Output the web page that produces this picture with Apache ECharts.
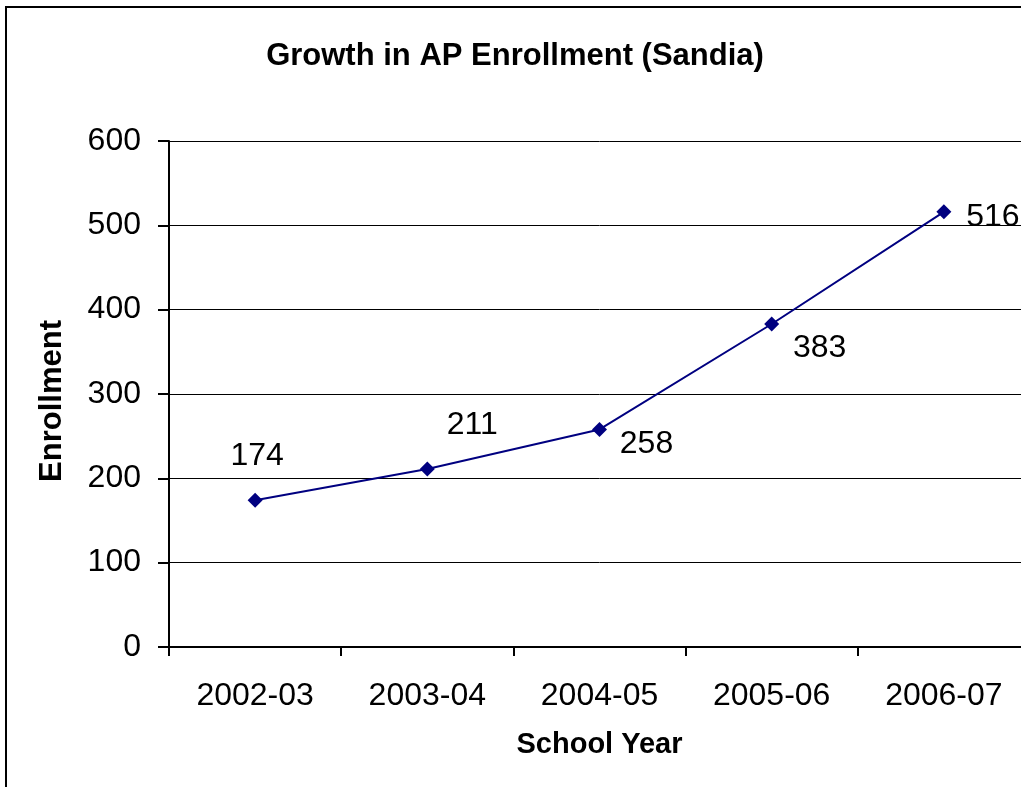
<!DOCTYPE html>
<html>
<head>
<meta charset="utf-8">
<script src="https://cdn.jsdelivr.net/npm/echarts@6/dist/echarts.min.js"></script>
<style>
html,body{margin:0;padding:0;background:#fff;overflow:hidden;width:1021px;height:787px;}
#chart{width:1030px;height:787px;}
</style>
</head>
<body>
<div id="chart"></div>
<script>
const categories = ['2002-03', '2003-04', '2004-05', '2005-06', '2006-07'];
const enrollment = [174, 211, 258, 383, 516];
const yTicks = [0, 100, 200, 300, 400, 500, 600];

const titleText = 'Growth in AP Enrollment (Sandia)';
const xTitle = 'School Year';
const yTitle = 'Enrollment';

// label placement (style only)
const labelOffsets = [[2, -44], [45, -44], [47, 15], [48, 24], [49, 5]];

const FONT = 'Arial, "Liberation Sans", sans-serif';

const chart = echarts.init(document.getElementById('chart'), null, {renderer: 'canvas'});
chart.setOption({
  animation: false,
  backgroundColor: '#fff',
  title: {
    text: titleText,
    left: 'center',
    top: 36,
    textStyle: {fontFamily: FONT, fontSize: 31, fontWeight: 'bold', color: '#000'}
  },
  graphic: [{
    type: 'rect',
    shape: {x: 6, y: 7, width: 1100, height: 1000},
    style: {fill: 'none', stroke: '#000', lineWidth: 2},
    silent: true
  }],
  grid: {left: 169, top: 141, right: 0, height: 506, containLabel: false},
  xAxis: {
    type: 'category',
    data: categories,
    boundaryGap: true,
    name: xTitle,
    nameLocation: 'middle',
    nameGap: 83,
    nameTextStyle: {fontFamily: FONT, fontSize: 29, fontWeight: 'bold', color: '#000', verticalAlign: 'top'},
    axisLine: {lineStyle: {color: '#000', width: 2}},
    axisTick: {show: true, length: 9, lineStyle: {color: '#000', width: 2}},
    axisLabel: {fontFamily: FONT, fontSize: 32, color: '#000', margin: 33},
    splitLine: {show: false}
  },
  yAxis: {
    type: 'value',
    min: yTicks[0],
    max: yTicks[yTicks.length - 1],
    interval: yTicks[1] - yTicks[0],
    name: yTitle,
    nameLocation: 'middle',
    nameGap: 101,
    nameRotate: 90,
    nameTextStyle: {fontFamily: FONT, fontSize: 31, fontWeight: 'bold', color: '#000', padding: [0, 0, 0, -14]},
    axisLine: {show: true, lineStyle: {color: '#000', width: 2}},
    axisTick: {show: true, length: 11, lineStyle: {color: '#000', width: 2}},
    axisLabel: {fontFamily: FONT, fontSize: 32, color: '#000', margin: 28, padding: [4, 0, 0, 0]},
    splitLine: {show: true, lineStyle: {color: '#000', width: 1}}
  },
  series: [{
    type: 'line',
    data: enrollment.map((v, i) => ({
      value: v,
      label: {offset: labelOffsets[i]}
    })),
    symbol: 'diamond',
    symbolSize: 15,
    itemStyle: {color: '#000080'},
    lineStyle: {color: '#000080', width: 2},
    label: {
      show: true,
      position: 'inside',
      fontFamily: FONT,
      fontSize: 32,
      color: '#000',
      align: 'center',
      verticalAlign: 'middle'
    }
  }]
});
</script>
</body>
</html>
